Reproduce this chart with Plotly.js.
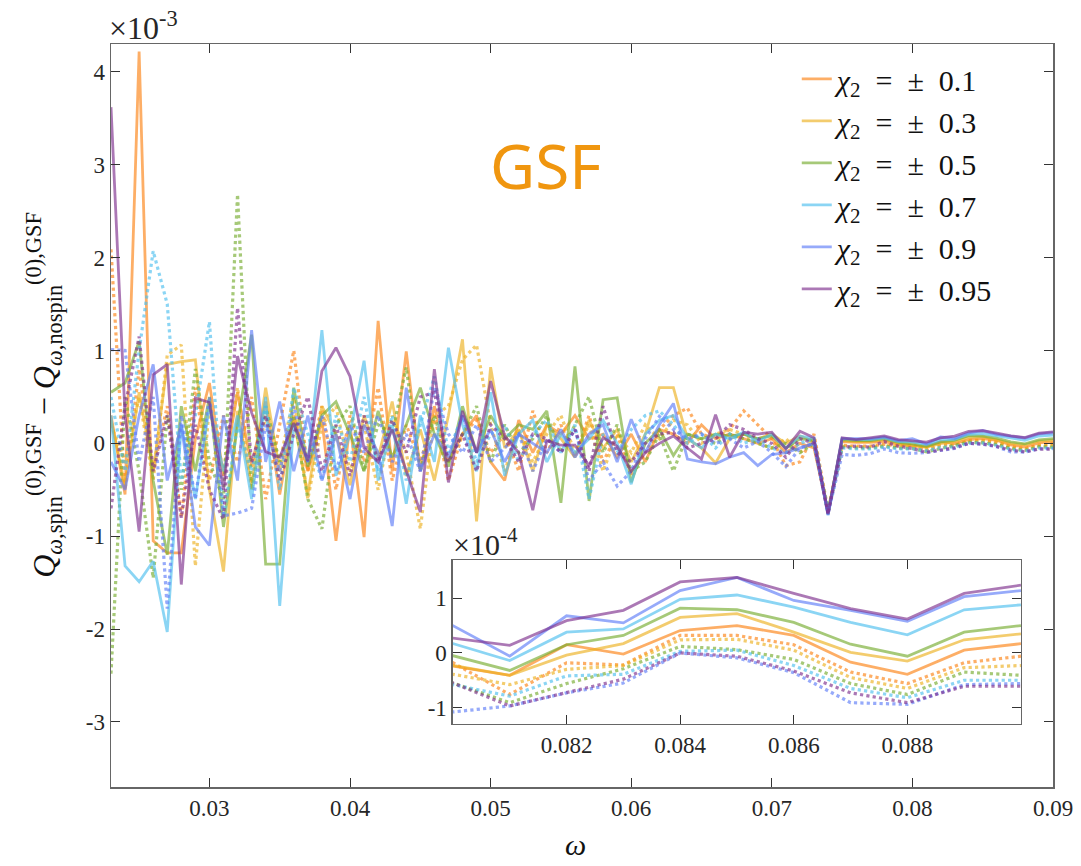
<!DOCTYPE html>
<html>
<head>
<meta charset="utf-8">
<script src="https://cdn.plot.ly/plotly-3.0.1.min.js"></script>
<style>html,body{margin:0;padding:0;background:#fff;}#chart{width:1081px;height:866px;}</style>
</head>
<body>
<div id="chart"></div>
<script>
// omega grid
var omega = [0.023,0.024,0.025,0.026,0.027,0.028,0.029,0.030,0.031,0.032,
 0.033,0.034,0.035,0.036,0.037,0.038,0.039,0.040,0.041,0.042,
 0.043,0.044,0.045,0.046,0.047,0.048,0.049,0.050,0.051,0.052,
 0.053,0.054,0.055,0.056,0.057,0.058,0.059,0.060,0.061,0.062,
 0.063,0.064,0.065,0.066,0.067,0.068,0.069,0.070,0.071,0.072,
 0.073,0.074,0.075,0.076,0.077,0.078,0.079,
 0.080,0.081,0.082,0.083,0.084,0.085,0.086,0.087,0.088,0.089,0.090];

// values in units of 1e-3 ; s = solid (chi2 = +), d = dotted (chi2 = -)
var s01 = [0.30,-0.55,4.22,-1.05,-1.18,-1.18,0.05,0.65,-0.35,0.55,
 -0.25,0.45,-0.55,0.30,-0.30,0.25,-1.05,0.20,-1.01,1.32,
 -0.30,0.99,-0.30,0.40,-0.20,0.10,0.30,-0.20,-0.40,0.25,
 -0.10,0.20,0.10,0.30,0.05,0.10,-0.15,0.10,-0.20,0.15,
 0.10,0.00,0.20,0.05,0.10,0.05,0.00,0.05,-0.10,0.00,
 -0.05,-0.74,0.02,0.01,0.01,0.02,-0.01,
 -0.024,-0.041,0.015,-0.002,0.041,0.050,0.032,-0.017,-0.039,0.005,0.017];
var s03 = [0.25,-0.45,0.55,-0.30,0.85,0.88,0.90,-0.50,-1.38,0.35,
 -0.45,0.60,-0.30,0.25,-0.55,0.40,0.10,-0.45,0.30,-0.15,
 0.45,-0.35,0.15,-0.40,0.30,1.12,-0.84,0.82,-0.05,0.15,
 -0.30,0.20,0.05,-0.15,0.25,-0.05,0.15,-0.20,0.10,0.60,
 0.60,0.05,-0.05,-0.21,0.05,0.10,0.05,0.10,0.00,0.08,
 0.02,-0.75,0.03,0.02,0.02,0.04,0.00,
 -0.023,-0.041,-0.004,0.017,0.065,0.072,0.038,0.001,-0.015,0.024,0.035];
var s05 = [0.55,0.65,1.10,-0.40,-1.20,0.40,-0.30,0.50,-0.90,0.20,
 1.17,-1.30,-1.30,0.60,-0.25,0.30,0.45,0.10,-0.30,0.35,
 -0.15,0.20,0.60,0.10,-0.25,0.40,-0.10,0.30,0.05,0.20,
 0.15,0.35,-0.64,0.83,-0.62,0.47,0.49,-0.42,0.00,0.15,
 -0.13,0.10,0.05,0.10,0.08,0.10,0.05,0.08,-0.05,0.05,
 0.03,-0.76,0.04,0.03,0.03,0.05,0.01,
 -0.005,-0.032,0.015,0.032,0.082,0.079,0.056,0.016,-0.006,0.038,0.050];
var s07 = [0.30,-1.32,-1.49,-1.27,-2.03,0.20,-0.60,0.40,-0.30,0.30,
 -0.60,0.50,-1.75,0.20,-0.20,1.22,-0.35,0.10,0.89,-0.40,
 0.20,-0.65,0.30,-0.20,1.03,0.20,-0.30,0.55,-0.35,0.10,
 0.25,-0.20,0.10,-0.10,0.05,0.25,0.00,-0.44,0.10,0.25,
 0.30,0.05,-0.05,0.10,0.05,0.12,0.02,0.10,-0.05,0.08,
 0.05,-0.77,0.05,0.04,0.04,0.06,0.02,
 0.017,-0.014,0.038,0.044,0.098,0.106,0.084,0.056,0.033,0.079,0.088];
var s09 = [-0.20,-0.50,0.30,0.85,-0.40,0.20,-0.90,-1.10,0.30,-0.40,
 1.22,-0.20,0.45,-0.30,0.30,-0.40,0.10,-0.60,0.20,-0.10,
 -0.89,0.60,-0.30,0.10,-0.15,0.30,-0.10,0.15,-0.20,0.10,
 0.00,-0.10,0.15,-0.15,0.10,0.20,-0.20,0.26,-0.10,0.20,
 0.43,-0.17,-0.20,-0.22,-0.15,-0.10,-0.24,-0.12,-0.10,-0.05,
 0.00,-0.77,0.05,0.05,0.05,0.07,0.03,
 0.050,-0.006,0.068,0.055,0.114,0.138,0.096,0.078,0.058,0.103,0.114];
var s095 = [3.62,0.30,-0.95,0.74,0.85,-1.52,0.49,0.44,-0.50,0.94,
 0.33,-0.09,-0.15,0.22,-0.19,0.78,1.03,0.72,-0.05,-0.20,
 0.15,-0.30,-0.74,0.80,-0.42,0.35,-0.10,0.67,0.08,-0.10,
 -0.72,0.03,-0.02,-0.02,-0.24,0.06,-0.03,-0.30,-0.10,0.00,
 0.08,-0.05,-0.17,0.31,-0.15,0.12,0.10,0.12,-0.06,0.13,
 0.06,-0.76,0.06,0.04,0.06,0.08,0.04,
 0.027,0.014,0.059,0.078,0.130,0.138,0.109,0.081,0.062,0.109,0.124];

var d01 = [2.09,-0.50,0.80,-0.30,0.40,-0.80,0.60,-0.40,0.30,-0.20,
 0.50,-0.60,0.20,1.00,-0.30,0.40,-0.50,0.30,-0.20,0.60,
 -0.40,0.20,-0.20,0.30,-0.40,0.10,0.25,-0.10,0.10,-0.30,
 0.35,-0.10,0.20,-0.15,0.30,-0.20,0.10,-0.35,-0.10,0.15,
 0.30,0.38,0.10,0.05,0.15,0.35,0.20,0.05,-0.24,-0.20,
 0.10,-0.72,-0.02,-0.03,-0.03,-0.01,-0.03,
 -0.018,-0.076,-0.018,-0.022,0.032,0.032,0.015,-0.035,-0.056,-0.018,-0.006];
var d03 = [0.20,-0.20,0.50,-0.40,0.95,1.06,-1.32,0.40,-0.30,0.60,
 -0.50,0.30,-0.20,0.50,-0.60,0.20,0.40,-0.30,0.20,-0.50,
 0.30,-0.10,-0.92,0.30,0.40,0.90,1.06,0.20,-0.30,0.15,
 -0.20,0.10,0.30,-0.10,0.20,-0.30,0.10,-0.10,0.20,0.05,
 0.25,0.20,0.00,0.10,0.15,0.10,0.00,-0.05,0.05,-0.10,
 0.05,-0.73,-0.03,-0.04,-0.04,-0.02,-0.04,
 -0.039,-0.058,-0.030,-0.023,0.024,0.025,0.005,-0.045,-0.065,-0.027,-0.023];
var d05 = [-2.48,0.50,-0.30,-1.45,0.30,-0.50,0.80,-0.20,-0.60,2.68,
 -0.50,0.40,-0.20,0.30,-0.60,-0.92,0.20,0.40,-0.30,0.20,
 0.10,0.82,-0.30,0.30,-0.20,0.10,0.40,-0.20,0.20,-0.10,
 0.05,0.30,-0.10,0.20,0.50,-0.10,0.20,-0.30,-0.20,0.10,
 -0.30,0.10,0.05,0.00,0.10,0.05,0.00,-0.05,0.00,-0.10,
 0.00,-0.74,-0.04,-0.05,-0.05,-0.03,-0.05,
 -0.055,-0.091,-0.056,-0.029,0.012,0.006,-0.012,-0.056,-0.076,-0.035,-0.041];
var d07 = [0.50,-0.30,1.00,2.07,1.50,-0.40,0.30,1.31,-0.80,0.20,
 -0.30,0.40,-0.50,0.60,0.10,-0.40,0.30,-0.20,0.50,-0.30,
 0.30,-0.40,0.20,0.72,-0.10,0.30,-0.20,0.10,0.20,-0.20,
 0.10,0.25,-0.10,0.20,-0.60,0.10,-0.10,0.15,0.30,0.35,
 0.20,0.00,0.10,-0.05,0.10,0.00,0.05,-0.05,-0.10,0.00,
 0.05,-0.74,-0.05,-0.06,-0.06,-0.04,-0.06,
 -0.058,-0.079,-0.042,-0.039,0.003,0.005,-0.023,-0.065,-0.082,-0.050,-0.050];
var d09 = [1.01,1.00,-0.20,0.50,-1.78,0.30,-0.60,0.50,-0.78,-0.75,
 -0.70,0.20,-0.30,0.40,-0.20,0.30,-0.30,0.20,-0.10,0.30,
 -0.20,0.10,-0.30,0.60,0.10,-0.10,0.20,-0.20,-0.05,0.10,
 -0.30,0.05,-0.10,0.15,-0.40,-0.20,-0.46,-0.30,0.05,0.29,
 0.15,0.05,0.10,0.00,0.05,-0.05,0.02,-0.10,-0.25,-0.05,
 0.00,-0.75,-0.12,-0.13,-0.11,-0.06,-0.10,
 -0.108,-0.097,-0.073,-0.055,0.000,-0.009,-0.036,-0.091,-0.094,-0.058,-0.056];
var d095 = [-0.70,0.40,1.15,-0.30,0.30,-0.80,0.20,-0.50,-0.82,1.46,
 -0.20,0.30,-0.40,0.10,0.50,-0.30,0.20,-0.35,0.30,-0.20,
 0.25,-0.10,0.50,0.55,-0.20,0.10,-0.30,0.20,0.05,-0.20,
 0.10,0.05,-0.10,0.15,-0.30,0.40,-0.10,-0.20,0.00,0.10,
 0.12,-0.05,0.00,0.05,0.20,0.15,0.05,0.00,-0.15,0.05,
 0.00,-0.76,-0.04,-0.03,-0.04,0.02,-0.03,
 -0.055,-0.097,-0.073,-0.048,0.000,-0.006,-0.033,-0.073,-0.091,-0.061,-0.061];

var chiLabels = ['0.1','0.3','0.5','0.7','0.9','0.95'];
var solidSeries = [s01, s03, s05, s07, s09, s095];
var dottedSeries = [d01, d03, d05, d07, d09, d095];
var colors = ['rgba(252,130,20,0.65)','rgba(237,177,32,0.65)','rgba(119,172,48,0.65)',
              'rgba(77,190,238,0.65)','rgba(94,125,248,0.65)','rgba(126,47,142,0.65)'];

var mainXTicks = [0.03,0.04,0.05,0.06,0.07,0.08,0.09];
var mainXText = ['0.03','0.04','0.05','0.06','0.07','0.08','0.09'];
var mainYTicks = [-3,-2,-1,0,1,2,3,4];
var mainYText = ['-3','-2','-1','0','1','2','3','4'];
var insetXTicks = [0.082,0.084,0.086,0.088];
var insetXText = ['0.082','0.084','0.086','0.088'];
var insetYTicks = [-1,0,1];
var insetYText = ['-1','0','1'];

var gap = '\u00a0\u00a0';
var traces = [];
for (var k = 0; k < 6; k++) {
  traces.push({x: omega, y: solidSeries[k], type: 'scatter', mode: 'lines',
    line: {color: colors[k], width: 2.8},
    name: '<i>χ</i><sub>2</sub>' + gap + '=' + gap + '±' + gap + chiLabels[k],
    legendgroup: 'g' + k, showlegend: true, xaxis: 'x', yaxis: 'y', hoverinfo: 'skip'});
  traces.push({x: omega, y: dottedSeries[k], type: 'scatter', mode: 'lines',
    line: {color: colors[k], width: 3.2, dash: 'dot'},
    legendgroup: 'g' + k, showlegend: false, xaxis: 'x', yaxis: 'y', hoverinfo: 'skip'});
}
// inset: same data expressed in units of 1e-4
for (var k = 0; k < 6; k++) {
  traces.push({x: omega, y: solidSeries[k].map(function(v){return v*10;}), type: 'scatter', mode: 'lines',
    line: {color: colors[k], width: 2.8}, showlegend: false, xaxis: 'x2', yaxis: 'y2', hoverinfo: 'skip'});
  traces.push({x: omega, y: dottedSeries[k].map(function(v){return v*10;}), type: 'scatter', mode: 'lines',
    line: {color: colors[k], width: 3.2, dash: 'dot'}, showlegend: false, xaxis: 'x2', yaxis: 'y2', hoverinfo: 'skip'});
}

var serif = '"Liberation Serif", serif';
function axisBase(extra) {
  var a = {showline: true, linecolor: '#666', linewidth: 1.5, mirror: 'ticks', ticks: 'inside',
    ticklen: 9, tickwidth: 1, tickcolor: '#333', showgrid: false, zeroline: false,
    tickfont: {family: serif, size: 23, color: '#262626'}, tickmode: 'array'};
  for (var key in extra) a[key] = extra[key];
  return a;
}

var layout = {
  width: 1081, height: 866,
  margin: {l: 111, r: 28, t: 44, b: 79},
  paper_bgcolor: '#ffffff', plot_bgcolor: '#ffffff',
  font: {family: serif},
  showlegend: true,
  legend: {x: 0.728, y: 0.988, xanchor: 'left', yanchor: 'top', bgcolor: 'rgba(255,255,255,0)',
    font: {family: serif, size: 30, color: '#111'}, tracegroupgap: 0},
  xaxis: axisBase({domain: [0, 1], range: [0.023, 0.09], tickvals: mainXTicks, ticktext: mainXText, anchor: 'y'}),
  yaxis: axisBase({domain: [0, 1], range: [-3.7, 4.3], tickvals: mainYTicks, ticktext: mainYText, anchor: 'x'}),
  xaxis2: axisBase({domain: [0.363, 0.966], range: [0.08, 0.09], tickvals: insetXTicks, ticktext: insetXText, anchor: 'y2'}),
  yaxis2: axisBase({domain: [0.0848, 0.3055], range: [-1.3, 1.7], tickvals: insetYTicks, ticktext: insetYText, anchor: 'x2'}),
  annotations: [
    {xref: 'paper', yref: 'paper', x: -0.004, y: 0.994, xanchor: 'left', yanchor: 'bottom',
     text: '×10<sup>-3</sup>', showarrow: false, font: {family: serif, size: 32, color: '#262626'}},
    {xref: 'paper', yref: 'paper', x: 0.361, y: 0.302, xanchor: 'left', yanchor: 'bottom',
     text: '×10<sup>-4</sup>', showarrow: false, font: {family: serif, size: 30, color: '#262626'}},
    {xref: 'paper', yref: 'paper', x: 0.461, y: 0.837, xanchor: 'center', yanchor: 'middle',
     text: 'GSF', showarrow: false, font: {family: '"Noto Sans", "Open Sans", sans-serif', size: 62, color: '#F0960F'}},
    {xref: 'paper', yref: 'paper', x: 0.4926, y: -0.078, xanchor: 'center', yanchor: 'middle',
     text: '<i>ω</i>', showarrow: false, font: {family: serif, size: 30, color: '#111'}},
    {xref: 'paper', yref: 'paper', x: -0.071, y: 0.528, xanchor: 'center', yanchor: 'middle', textangle: -90,
     text: '<i>Q</i><sub><i>ω</i>,spin</sub><sup>(0),GSF</sup> − <i>Q</i><sub><i>ω</i>,nospin</sub><sup>(0),GSF</sup>',
     showarrow: false, font: {family: serif, size: 32, color: '#111'}}
  ]
};

Plotly.newPlot('chart', traces, layout, {displayModeBar: false, staticPlot: true});
</script>
</body>
</html>
